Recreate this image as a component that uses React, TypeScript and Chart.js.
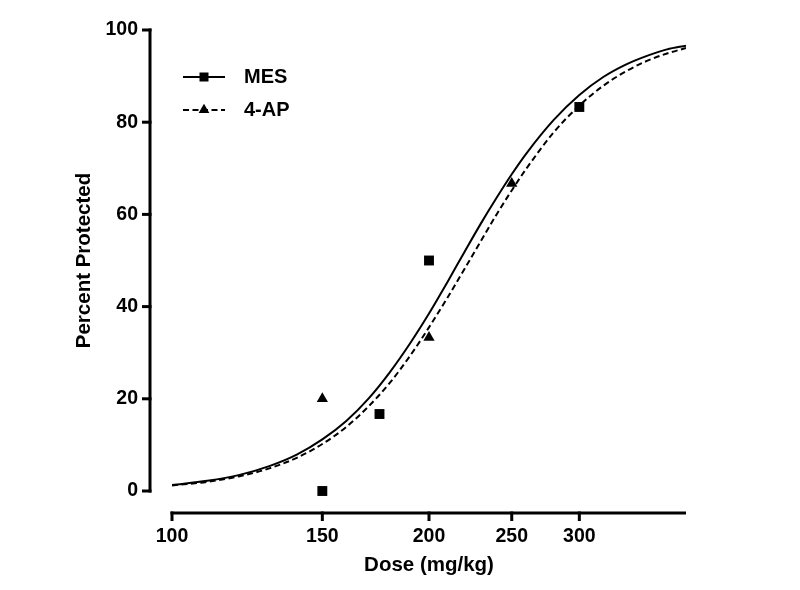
import React, { useEffect, useRef } from "react";
import { Chart, registerables } from "chart.js";

Chart.register(...registerables);

// ---- data ----
const curveDoses = [100, 110, 120, 130, 140, 150, 160, 170, 180, 190, 200, 210, 220, 230, 240, 250, 260, 280, 300, 320, 340, 360, 380, 400];
const mesCurve = [1.3, 2.2, 3.5, 5.4, 7.9, 11.2, 15.2, 20.1, 25.8, 32.0, 38.5, 45.2, 51.8, 58.0, 63.6, 68.7, 73.2, 80.5, 85.9, 89.8, 92.5, 94.4, 95.8, 96.6];
const apCurve = [1.2, 2.0, 3.2, 4.9, 7.2, 10.2, 13.9, 18.4, 23.5, 29.3, 35.5, 41.8, 48.1, 54.2, 60.0, 65.2, 69.9, 77.8, 83.6, 87.9, 91.0, 93.3, 94.9, 96.1];

const mesDoses = [150, 175, 200, 300];
const mesValues = [0, 16.7, 50, 83.3];
const apDoses = [150, 200, 250];
const apValues = [20, 33.3, 66.7];

const seriesNames = ["MES", "4-AP"];
const xTicks = [100, 150, 200, 250, 300];
const yTicks = [0, 20, 40, 60, 80, 100];
const xRange = [100, 400];
const yRange = [0, 100];
const xTitle = "Dose (mg/kg)";
const yTitle = "Percent Protected";

const FONT = '"Liberation Sans", Arial, Helvetica, sans-serif';

const toXY = (xs: number[], ys: number[]) => xs.map((x, i) => ({ x, y: ys[i] }));

const axesPlugin = {
  id: "prismAxes",
  afterDraw(chart: any) {
    const { ctx, chartArea, scales } = chart;
    const xs = scales.x;
    const ys = scales.y;
    const ax = chartArea.left - 22;
    const ay = chartArea.bottom + 22;
    ctx.save();
    ctx.strokeStyle = "#000";
    ctx.lineWidth = 3;
    ctx.lineCap = "butt";
    // y axis
    const y0 = ys.getPixelForValue(yRange[0]);
    const y1 = ys.getPixelForValue(yRange[1]);
    ctx.beginPath();
    ctx.moveTo(ax, y0 + 1.5);
    ctx.lineTo(ax, y1 - 1.5);
    ctx.stroke();
    ys.ticks.forEach((t: any) => {
      const py = ys.getPixelForValue(t.value);
      ctx.beginPath();
      ctx.moveTo(ax + 1.5, py);
      ctx.lineTo(ax - 8, py);
      ctx.stroke();
    });
    // x axis
    const x0 = xs.getPixelForValue(xRange[0]);
    const x1 = xs.getPixelForValue(xRange[1]);
    ctx.beginPath();
    ctx.moveTo(x0 - 1.5, ay);
    ctx.lineTo(x1, ay);
    ctx.stroke();
    xs.ticks.forEach((t: any) => {
      const px = xs.getPixelForValue(t.value);
      ctx.beginPath();
      ctx.moveTo(px, ay - 1.5);
      ctx.lineTo(px, ay + 8);
      ctx.stroke();
    });
    ctx.restore();
  },
};

const legendPlugin = {
  id: "prismLegend",
  afterDraw(chart: any) {
    const { ctx } = chart;
    const ds = chart.data.datasets;
    const items = [
      { label: ds[0].label, dash: ds[0].borderDash || [], style: ds[2].pointStyle, y: 77 },
      { label: ds[1].label, dash: ds[1].borderDash || [], style: ds[3].pointStyle, y: 110 },
    ];
    ctx.save();
    items.forEach((it) => {
      const xl = 183, xr = 225, xm = 204;
      ctx.strokeStyle = "#000";
      ctx.lineWidth = 2;
      ctx.setLineDash(it.dash);
      ctx.beginPath();
      ctx.moveTo(xl, it.y);
      ctx.lineTo(xr, it.y);
      ctx.stroke();
      ctx.setLineDash([]);
      ctx.fillStyle = "#000";
      ctx.beginPath();
      if (it.style === "rect") {
        const s = 4.5;
        ctx.rect(xm - s, it.y - s, 2 * s, 2 * s);
      } else {
        const r = 6.2;
        ctx.moveTo(xm, it.y - r);
        ctx.lineTo(xm + r * 0.866, it.y + r * 0.5);
        ctx.lineTo(xm - r * 0.866, it.y + r * 0.5);
        ctx.closePath();
      }
      ctx.fill();
      ctx.font = `bold 20px ${FONT}`;
      ctx.textBaseline = "middle";
      ctx.textAlign = "left";
      ctx.fillText(it.label, 244, it.y);
    });
    ctx.restore();
  },
};

export default function App() {
  const ref = useRef<HTMLCanvasElement | null>(null);

  useEffect(() => {
    if (!ref.current) return;
    const tickFont = { family: FONT, size: 19.5, weight: "bold" as const };
    const titleFont = { family: FONT, size: 20.5, weight: "bold" as const };
    const chart = new Chart(ref.current, {
      type: "line",
      data: {
        datasets: [
          {
            label: seriesNames[0],
            data: toXY(curveDoses, mesCurve),
            borderColor: "#000",
            borderWidth: 2,
            pointRadius: 0,
            cubicInterpolationMode: "monotone",
            fill: false,
          },
          {
            label: seriesNames[1],
            data: toXY(curveDoses, apCurve),
            borderColor: "#000",
            borderWidth: 2,
            borderDash: [6, 3.5],
            pointRadius: 0,
            cubicInterpolationMode: "monotone",
            fill: false,
          },
          {
            label: seriesNames[0] + " data",
            data: toXY(mesDoses, mesValues),
            showLine: false,
            pointStyle: "rect",
            pointRadius: 7,
            backgroundColor: "#000",
            borderColor: "#000",
            borderWidth: 0,
            clip: false,
          },
          {
            label: seriesNames[1] + " data",
            data: toXY(apDoses, apValues),
            showLine: false,
            pointStyle: "triangle",
            pointRadius: 6.5,
            backgroundColor: "#000",
            borderColor: "#000",
            borderWidth: 0,
            clip: false,
          },
        ],
      },
      options: {
        animation: false,
        responsive: false,
        events: [],
        layout: { padding: { top: 30, right: 114, left: 0, bottom: 0 } },
        plugins: {
          legend: { display: false },
          tooltip: { enabled: false },
        },
        scales: {
          x: {
            type: "logarithmic",
            min: xRange[0],
            max: xRange[1],
            afterBuildTicks: (s: any) => {
              s.ticks = xTicks.map((v) => ({ value: v }));
            },
            afterFit: (s: any) => {
              s.height = 99;
              s.paddingLeft = 0;
              s.paddingRight = 0;
            },
            ticks: {
              callback: (v: any) => String(v),
              font: tickFont,
              color: "#000",
              padding: 34,
              autoSkip: false,
              maxRotation: 0,
            },
            grid: { display: false, drawTicks: false },
            border: { display: false },
            title: {
              display: true,
              text: xTitle,
              font: titleFont,
              color: "#000",
              padding: { top: 0, bottom: 12 },
            },
          },
          y: {
            type: "linear",
            min: yRange[0],
            max: yRange[1],
            afterBuildTicks: (s: any) => {
              s.ticks = yTicks.map((v) => ({ value: v }));
            },
            afterFit: (s: any) => {
              s.width = 172;
              s.paddingTop = 0;
              s.paddingBottom = 0;
            },
            ticks: {
              font: tickFont,
              color: "#000",
              padding: 34,
            },
            grid: { display: false, drawTicks: false },
            border: { display: false },
            title: {
              display: true,
              text: yTitle,
              font: titleFont,
              color: "#000",
              padding: { top: 72, bottom: 0 },
            },
          },
        },
      },
      plugins: [axesPlugin, legendPlugin],
    } as any);
    return () => chart.destroy();
  }, []);

  return (
    <div style={{ position: "fixed", left: 0, top: 0, width: 800, height: 590, background: "#fff" }}>
      <canvas ref={ref} width={800} height={590} style={{ display: "block" }} />
    </div>
  );
}
